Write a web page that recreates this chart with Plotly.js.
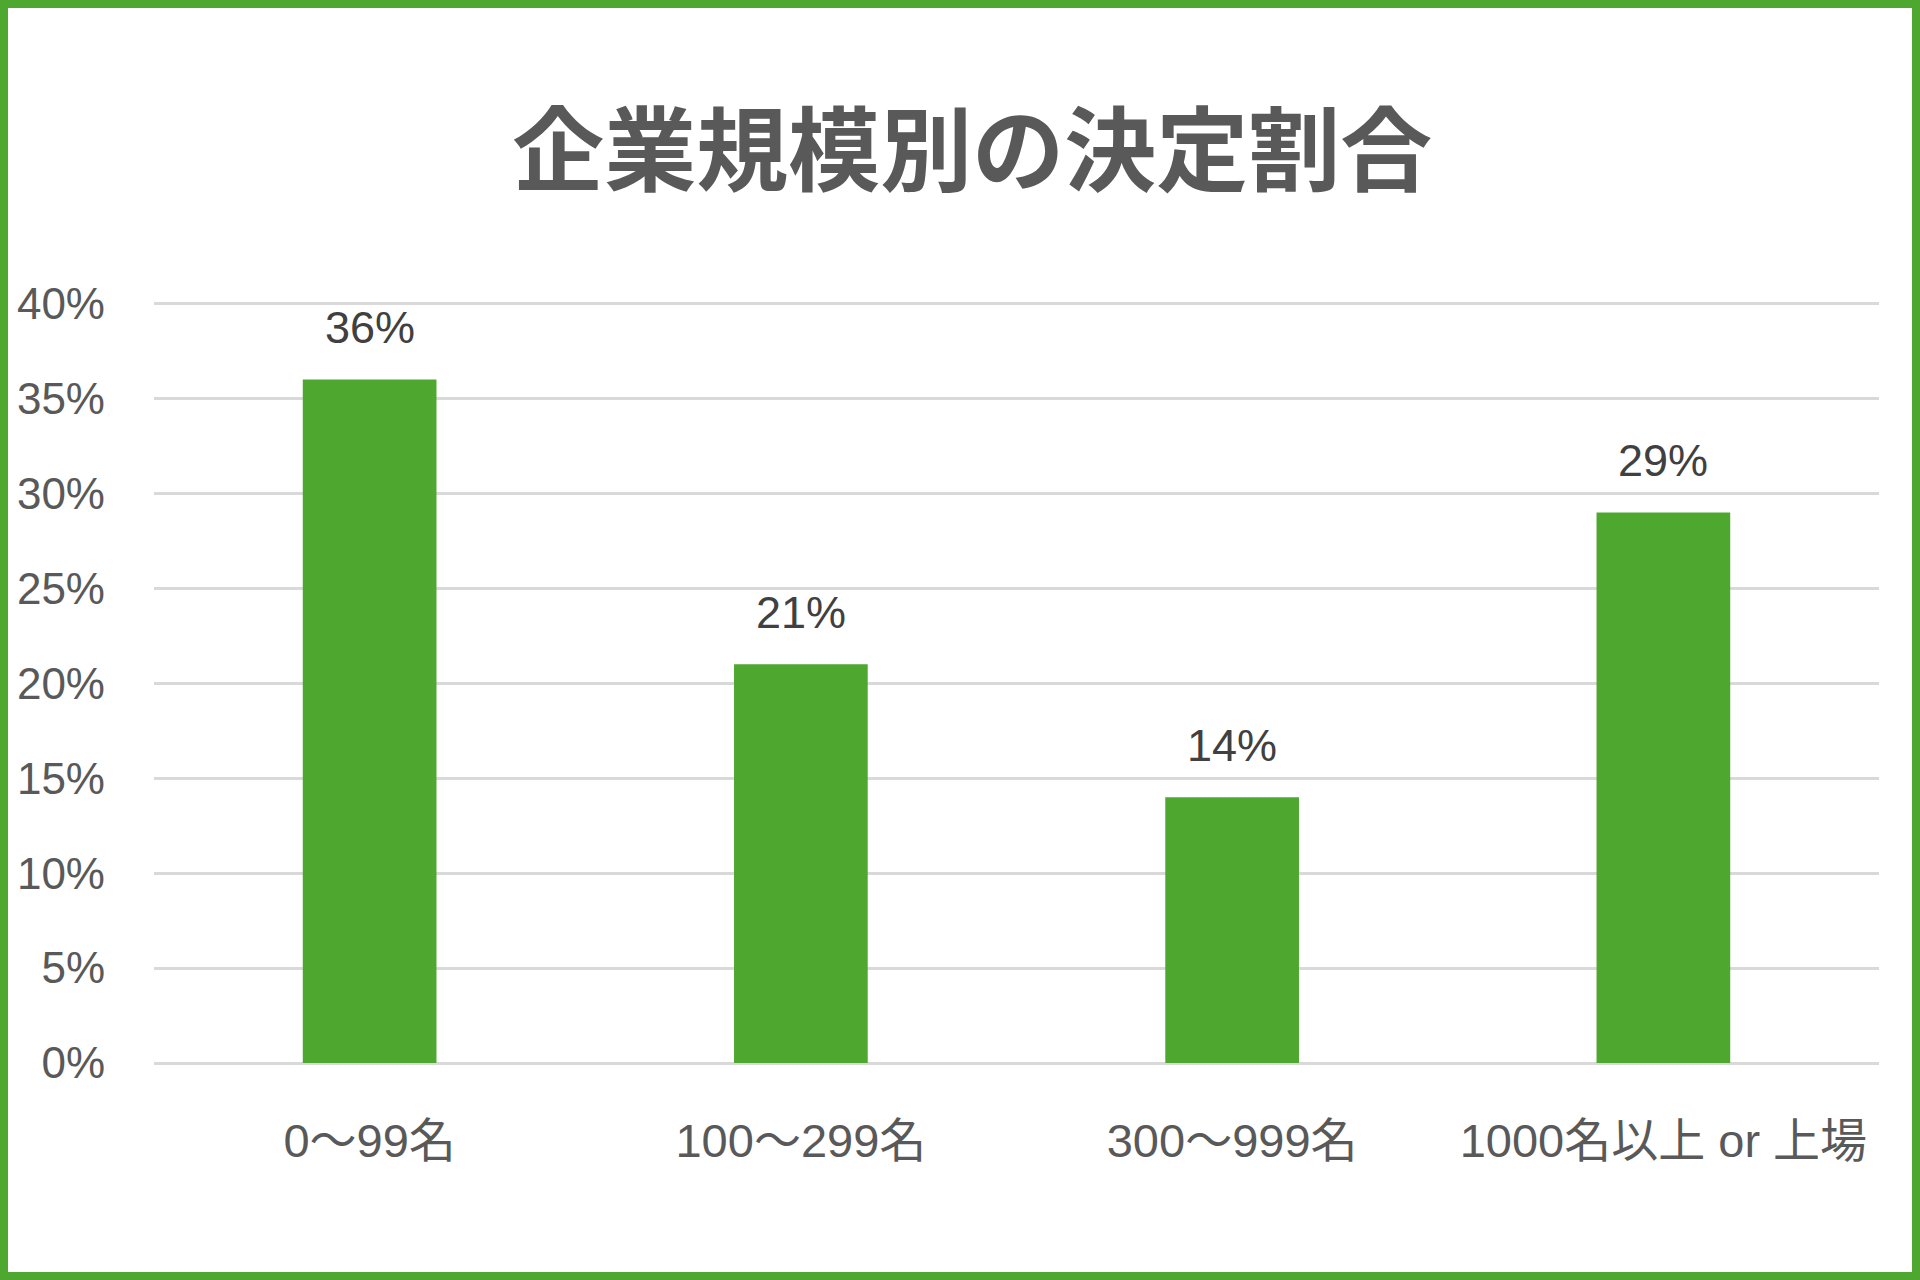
<!DOCTYPE html>
<html>
<head>
<meta charset="utf-8">
<script src="https://cdn.plot.ly/plotly-3.0.1.min.js"></script>
<style>
html, body { margin: 0; padding: 0; background: #ffffff; }
#wrap { width: 1920px; height: 1280px; box-sizing: border-box; border: 8px solid #4ea72e; background: #ffffff; }
#chart { width: 1904px; height: 1264px; }
</style>
</head>
<body>
<div id="wrap"><div id="chart"></div></div>
<script>
const chartTitle = "企業規模別の決定割合";
const categories = ["0〜99名", "100〜299名", "300〜999名", "1000名以上 or 上場"];
const shares = [0.36, 0.21, 0.14, 0.29];
const shareLabels = ["36%", "21%", "14%", "29%"];

const latinFont = "'Liberation Sans', Arial, 'Noto Sans CJK JP', sans-serif";

const trace = {
  type: "bar",
  x: categories,
  y: shares,
  marker: { color: "#4ea72e", line: { width: 0 } },
  hoverinfo: "skip"
};

const annotations = categories.map((c, i) => ({
  x: c, y: shares[i], xref: "x", yref: "y",
  text: shareLabels[i], showarrow: false,
  yanchor: "bottom", yshift: 24,
  font: { family: latinFont, size: 45, color: "#404040" }
}));

const layout = {
  width: 1904, height: 1264,
  paper_bgcolor: "#ffffff", plot_bgcolor: "#ffffff",
  margin: { l: 146, r: 33, t: 294, b: 209 },
  showlegend: false,
  bargap: 0.69,
  title: {
    text: chartTitle,
    xref: "container", yref: "container",
    x: 0.5065, y: 0.886, xanchor: "center", yanchor: "middle",
    font: { family: "'Noto Sans CJK JP', sans-serif", size: 92, color: "#595959", weight: "bold" }
  },
  xaxis: {
    type: "category",
    showgrid: false, zeroline: false, showline: false,
    ticks: "", ticklabelstandoff: 46,
    tickfont: { family: latinFont, size: 47, color: "#595959" }
  },
  yaxis: {
    range: [0, 0.4008], dtick: 0.05, tick0: 0, tickformat: ".0%",
    showgrid: true, gridcolor: "#d9d9d9", gridwidth: 3,
    zeroline: true, zerolinecolor: "#d9d9d9", zerolinewidth: 3,
    showline: false, ticks: "", ticklabelstandoff: 48,
    tickfont: { family: latinFont, size: 44, color: "#595959" }
  },
  annotations: annotations
};

Plotly.newPlot("chart", [trace], layout, { staticPlot: true, displayModeBar: false });
</script>
</body>
</html>
